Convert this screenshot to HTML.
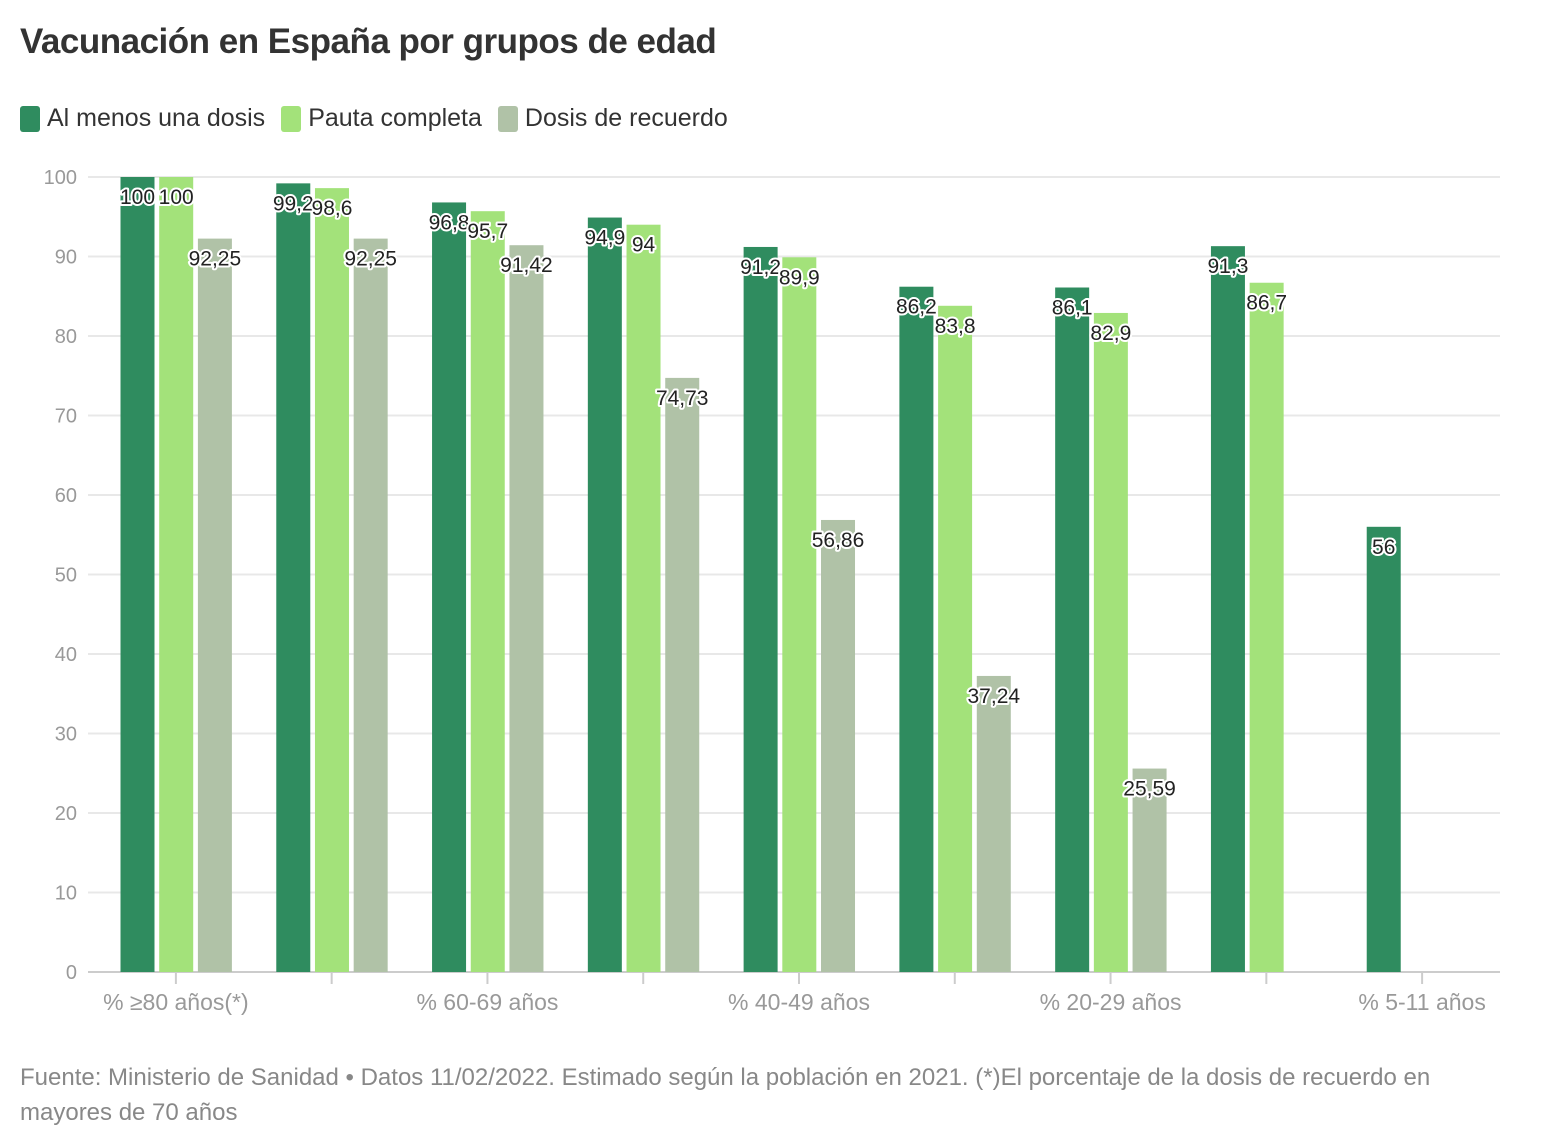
<!DOCTYPE html>
<html><head><meta charset="utf-8"><style>
body{margin:0;background:#fff;font-family:"Liberation Sans",sans-serif;}
#title{position:absolute;left:20px;top:22px;font-size:35px;font-weight:bold;color:#333;letter-spacing:-0.5px}
#legend{position:absolute;left:20px;top:104px;font-size:25px;color:#333;display:flex;gap:16px}
.li{display:flex;align-items:center;gap:7px}
.sw{width:20px;height:26px;border-radius:3px;display:inline-block}
#foot{position:absolute;left:20px;top:1060px;font-size:24px;color:#888;line-height:35px;width:1540px;white-space:nowrap}
svg{position:absolute;left:0;top:0}
</style></head><body>
<div id="title">Vacunación en España por grupos de edad</div>
<div id="legend">
<div class="li"><span class="sw" style="background:#2f8c5f"></span>Al menos una dosis</div>
<div class="li"><span class="sw" style="background:#a3e27a"></span>Pauta completa</div>
<div class="li"><span class="sw" style="background:#b0c2a7"></span>Dosis de recuerdo</div>
</div>
<svg id="chart" width="1562" height="1148"></svg>
<div id="foot">Fuente: Ministerio de Sanidad • Datos 11/02/2022. Estimado según la población en 2021. (*)El porcentaje de la dosis de recuerdo en<br>mayores de 70 años</div>
<script>
const categories=["% ≥80 años(*)","% 70-79 años","% 60-69 años","% 50-59 años","% 40-49 años","% 30-39 años","% 20-29 años","% 12-19 años","% 5-11 años"];
const firstDose=[100,99.2,96.8,94.9,91.2,86.2,86.1,91.3,56];
const fullDose=[100,98.6,95.7,94,89.9,83.8,82.9,86.7,null];
const booster=[92.25,92.25,91.42,74.73,56.86,37.24,25.59,null,null];
const yTicks=[0,10,20,30,40,50,60,70,80,90,100];
const shownLabels=[0,2,4,6,8];
const series=[{v:firstDose,c:"#2f8c5f",n:"first-dose"},{v:fullDose,c:"#a3e27a",n:"full-dose"},{v:booster,c:"#b0c2a7",n:"booster"}];
const NS="http://www.w3.org/2000/svg";
const svg=document.getElementById('chart');
const x0=98,x1=1500,yTop=177,yBot=972,gw=(x1-x0)/categories.length;
const y=v=>yBot-(v/100)*(yBot-yTop);
const gx=i=>x0+i*gw;
function mk(t,a){const e=document.createElementNS(NS,t);for(const k in a)e.setAttribute(k,a[k]);svg.appendChild(e);return e;}
yTicks.forEach(t=>{
 const l=mk('line',{x1:x0-10,x2:x1,y1:y(t),y2:y(t),stroke:t===0?'#ccc':'#e8e8e8','stroke-width':2});
 
 const tx=mk('text',{x:77,y:y(t)+7,'text-anchor':'end','font-size':20,fill:'#999'});tx.textContent=t;
 
});
categories.forEach((c,i)=>{
 const cx=gx(i)+gw/2;
 const tk=mk('line',{x1:cx,x2:cx,y1:yBot,y2:yBot+12,stroke:'#ccc','stroke-width':2});
 
 if(shownLabels.includes(i)){
  const t=mk('text',{x:cx,y:1010,'text-anchor':'middle','font-size':23,fill:'#999'});t.textContent=c;
  
 }
});
const labels=[];
series.forEach((s,j)=>{
 s.v.forEach((v,i)=>{
  if(v==null)return;
  const bx=gx(i)+22.5+j*38.7,bw=34;
  const r=mk('rect',{x:bx,y:y(v),width:bw,height:yBot-y(v),fill:s.c});
  
  labels.push([bx+bw/2,y(v)+27,String(v).replace('.',',')]);
 });
});
labels.forEach(([lx,ly,s])=>{
 const t=mk('text',{x:lx,y:ly,'text-anchor':'middle','font-size':21,fill:'#222',stroke:'#fff','stroke-width':4,'paint-order':'stroke','stroke-linejoin':'round'});
 t.textContent=s;
});
</script>
</body></html>
